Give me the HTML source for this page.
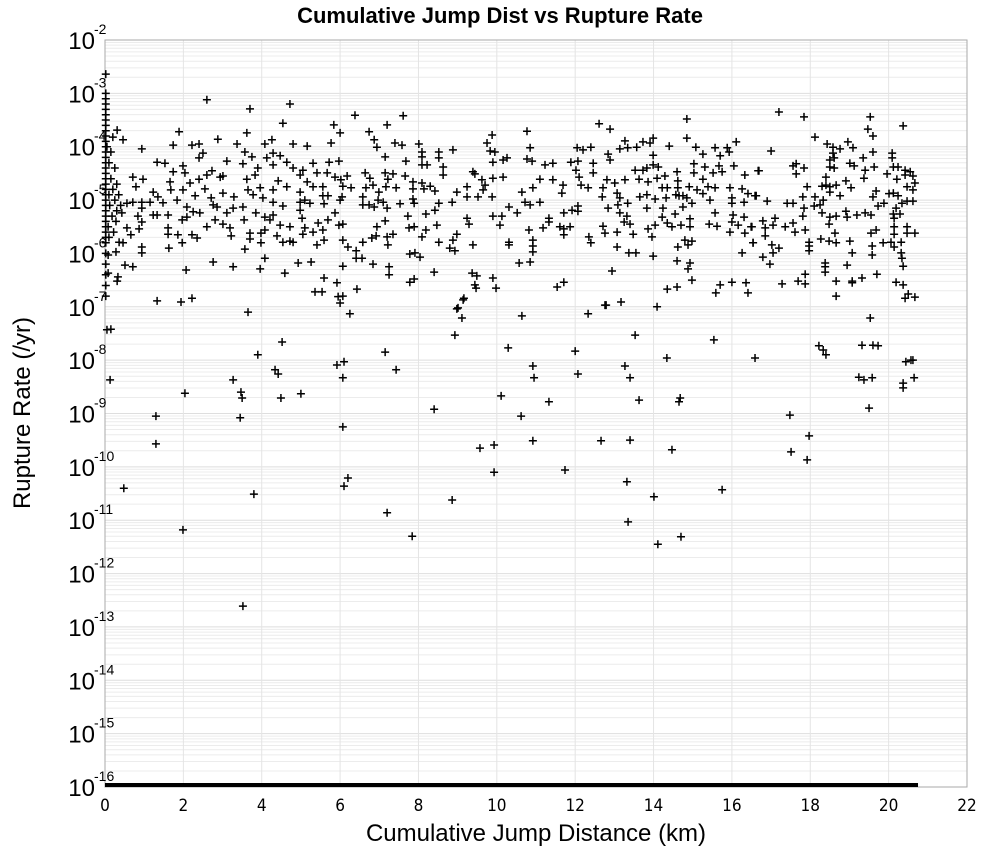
<!DOCTYPE html>
<html><head><meta charset="utf-8">
<style>
html,body{margin:0;padding:0;background:#fff;}
svg{display:block;font-family:"Liberation Sans","DejaVu Sans",sans-serif;}
</style></head>
<body>
<svg id="chart" width="1000" height="850" viewBox="0 0 1000 850" xmlns="http://www.w3.org/2000/svg">
<text x="500" y="23" text-anchor="middle" font-size="22" font-weight="bold" fill="#000">Cumulative Jump Dist vs Rupture Rate</text>
<g id="grid"></g>
<rect x="105" y="40" width="862" height="747" fill="none" stroke="#aaa" stroke-width="1"/>
<g id="yticks"></g>
<g id="xticks"></g>
<g id="points"></g>
<text x="536" y="841" text-anchor="middle" font-size="24" fill="#000">Cumulative Jump Distance (km)</text>
<text transform="translate(30,413) rotate(-90)" text-anchor="middle" font-size="24" fill="#000">Rupture Rate (/yr)</text>
</svg>
<script>
const xTicks=[0,2,4,6,8,10,12,14,16,18,20,22];
const yExps=[-2,-3,-4,-5,-6,-7,-8,-9,-10,-11,-12,-13,-14,-15,-16];
// floor band: ruptures clamped at 1e-16, spanning this distance range
const floorRange=[0,20.75];
const floorRate=1e-16;
// [distance km, log10 rate]
const pts=[
[0.02,-2.64],[0.02,-3.0],[0.02,-3.1],[0.02,-3.2],[0.02,-3.3],[0.02,-3.4],[0.02,-3.5],[0.02,-3.6],[0.02,-3.7],[0.02,-3.8],[0.02,-3.9],[0.02,-4.0],[0.02,-4.1],[0.02,-4.2],[0.02,-4.3],[0.02,-4.4],[0.02,-4.5],[0.02,-4.6],[0.02,-4.7],[0.02,-4.8],[0.02,-4.9],[0.02,-5.0],[0.02,-5.1],[0.02,-5.2],[0.02,-5.3],[0.02,-5.4],[0.02,-5.5],[0.02,-5.6],[0.02,-5.7],[0.02,-5.8],[0.02,-6.0],[0.02,-6.2],[0.02,-6.4],[0.02,-6.6],[0.02,-6.8],
[0.1,-4.3],[0.15,-4.6],[0.2,-4.8],[0.1,-4.9],[0.25,-5.0],[0.12,-5.1],[0.3,-5.2],[0.18,-5.3],[0.08,-5.5],[0.22,-5.6],[0.1,-5.7],[0.15,-4.1],[0.25,-4.4],[0.3,-4.7],[0.05,-4.0],[0.35,-4.9],[0.4,-5.1],[0.28,-5.4],
[2.60,-3.12],[3.70,-3.29],[4.72,-3.20],[4.54,-3.56],[0.31,-3.69],[1.89,-3.72],[3.62,-3.74],[4.26,-3.87],[2.88,-3.86],[0.94,-4.04],[1.74,-3.97],[2.22,-3.97],[2.40,-3.95],[3.37,-3.95],[4.08,-3.95],[4.80,-3.95],[5.16,-3.99],[0.46,-3.87],[0.20,-3.82],[3.57,-4.10],[2.50,-4.12],[3.75,-4.19],[2.40,-4.21],[3.11,-4.27],[1.33,-4.29],[1.53,-4.31],[4.13,-4.21],[4.29,-4.12],[4.47,-4.17],[4.64,-4.29],[5.31,-4.31],[1.99,-4.36],[3.52,-4.32],[4.29,-4.34],[4.80,-4.40],[5.05,-4.44],[2.73,-4.45],[3.90,-4.40],[1.74,-4.47],[2.04,-4.49],[2.60,-4.53],[2.94,-4.57],[3.01,-4.55],[3.62,-4.61],[3.83,-4.53],[0.71,-4.57],[0.97,-4.61],[2.40,-4.61],[4.42,-4.64],[4.98,-4.53],[5.41,-4.49],[1.66,-4.66],[2.17,-4.68],[5.16,-4.66],[0.79,-4.75],[1.23,-4.85],[1.68,-4.81],[1.99,-4.81],[2.55,-4.79],[3.65,-4.81],[3.96,-4.77],[4.29,-4.81],[4.64,-4.75],[4.98,-4.85],[5.31,-4.75],[1.35,-4.94],[1.48,-5.05],[1.84,-5.00],[2.30,-4.92],[2.71,-4.96],[3.01,-4.87],[3.29,-4.94],[3.78,-4.90],[4.03,-4.96],[4.29,-5.04],[4.54,-5.11],[4.98,-5.04],[5.10,-5.00],[5.23,-5.06],[0.56,-5.06],[0.71,-5.04],[0.94,-5.04],[1.15,-5.04],[0.94,-5.15],[2.09,-5.13],[2.76,-5.09],[2.86,-5.13],[3.52,-5.13],[1.23,-5.28],[1.33,-5.28],[1.61,-5.28],[1.97,-5.37],[2.09,-5.32],[2.25,-5.22],[2.42,-5.24],[3.11,-5.24],[3.27,-5.15],[3.85,-5.24],[4.08,-5.32],[4.29,-5.28],[4.98,-5.19],[5.03,-5.34],[0.84,-5.30],[0.94,-5.41],[0.43,-5.24],[2.81,-5.37],[3.55,-5.37],[4.21,-5.37],[4.47,-5.47],[4.72,-5.50],[5.10,-5.52],[5.31,-5.60],[5.44,-5.43],[0.56,-5.52],[0.66,-5.65],[0.87,-5.54],[1.61,-5.52],[1.61,-5.64],[1.86,-5.65],[2.22,-5.65],[2.35,-5.71],[2.60,-5.50],[3.01,-5.45],[3.19,-5.52],[3.22,-5.67],[3.70,-5.62],[3.98,-5.62],[4.08,-5.56],[4.39,-5.67],[4.72,-5.77],[5.05,-5.64],[0.36,-5.79],[0.46,-5.80],[1.97,-5.80],[3.70,-5.73],[3.98,-5.80],[4.54,-5.79],[4.80,-5.79],[5.41,-5.84],[0.94,-5.88],[0.94,-5.99],[1.63,-5.90],[3.57,-5.92],[0.28,-5.97],[0.08,-6.03],[4.08,-6.09],[2.76,-6.16],[3.27,-6.25],[3.96,-6.29],[4.93,-6.18],[5.26,-6.16],[0.51,-6.22],[0.71,-6.25],[2.07,-6.31],[4.59,-6.37],[0.08,-6.37],[0.33,-6.44],[0.31,-6.52],[5.36,-6.72],[1.33,-6.89],[1.94,-6.91],[2.22,-6.84],
[6.38,-3.41],[7.61,-3.42],[5.84,-3.59],[6.00,-3.74],[7.20,-3.59],[6.74,-3.72],[6.87,-3.87],[6.94,-4.01],[5.77,-3.93],[7.40,-3.93],[7.58,-3.97],[8.01,-3.95],[8.09,-4.10],[8.09,-4.19],[8.52,-4.10],[8.52,-4.21],[8.88,-4.06],[7.15,-4.19],[5.72,-4.29],[5.97,-4.27],[7.68,-4.27],[8.09,-4.34],[8.22,-4.34],[8.63,-4.38],[8.63,-4.53],[5.67,-4.49],[5.87,-4.57],[6.02,-4.62],[6.18,-4.55],[6.64,-4.49],[6.76,-4.59],[7.15,-4.49],[7.22,-4.61],[7.35,-4.51],[7.66,-4.55],[7.86,-4.66],[8.09,-4.68],[8.30,-4.74],[5.56,-4.75],[6.07,-4.74],[6.28,-4.77],[6.66,-4.77],[6.84,-4.72],[7.17,-4.75],[7.43,-4.77],[7.86,-4.79],[8.14,-4.79],[8.42,-4.83],[8.98,-4.85],[5.56,-4.92],[5.69,-4.92],[6.05,-4.94],[6.58,-4.94],[6.99,-4.85],[6.97,-5.00],[7.10,-5.04],[7.86,-4.98],[7.89,-5.06],[5.59,-5.07],[6.00,-5.00],[6.58,-5.09],[6.74,-5.09],[6.87,-5.13],[7.20,-5.15],[7.53,-5.07],[8.52,-5.06],[8.42,-5.19],[8.86,-5.04],[9.24,-4.94],[9.52,-4.94],[9.88,-4.94],[9.24,-4.75],[9.44,-4.51],[9.39,-4.47],[9.62,-4.62],[9.70,-4.72],[9.65,-4.81],[9.90,-4.59],[10.16,-4.57],[9.90,-4.29],[9.75,-3.93],[9.88,-3.78],[9.83,-4.08],[9.95,-4.10],[10.16,-4.25],[10.26,-4.21],[10.77,-3.71],[10.85,-4.02],[10.77,-4.23],[10.90,-4.27],[10.64,-4.85],[10.72,-5.04],[10.85,-5.09],[10.92,-4.77],[10.31,-5.13],[10.52,-5.24],[9.90,-5.30],[10.13,-5.30],[10.08,-5.47],[9.24,-5.34],[9.29,-5.45],[10.82,-5.56],[10.92,-5.75],[10.92,-5.86],[10.92,-5.97],[10.31,-5.79],[10.31,-5.84],[10.57,-6.18],[10.85,-6.16],[9.39,-5.84],[8.98,-5.64],[8.88,-5.75],[8.80,-5.90],[8.93,-5.95],[5.56,-5.56],[5.69,-5.37],[5.87,-5.24],[5.97,-5.47],[6.07,-5.45],[5.59,-5.75],[6.07,-5.75],[6.20,-5.88],[6.41,-5.95],[6.58,-5.79],[6.81,-5.71],[6.92,-5.67],[6.94,-5.50],[7.15,-5.39],[7.20,-5.69],[7.22,-5.84],[7.35,-5.64],[7.73,-5.30],[7.76,-5.52],[7.89,-5.50],[8.09,-5.69],[8.19,-5.26],[8.19,-5.56],[8.47,-5.47],[8.52,-5.79],[6.41,-6.09],[6.56,-6.09],[6.84,-6.20],[6.07,-6.24],[7.78,-6.01],[7.91,-5.99],[8.04,-6.07],[7.25,-6.25],[7.25,-6.40],[8.40,-6.35],[7.78,-6.54],[7.89,-6.48],[9.37,-6.37],[9.49,-6.42],[9.90,-6.46],[9.47,-6.65],[9.14,-6.87],[8.98,-7.04],[5.59,-6.46],[5.92,-6.55],[5.54,-6.72],[5.95,-6.81],[6.07,-6.80],[6.00,-6.93],[6.43,-6.67],
[12.61,-3.57],[12.89,-3.67],[14.85,-3.48],[14.85,-3.84],[13.27,-3.89],[13.73,-3.91],[13.99,-3.84],[13.91,-3.93],[14.40,-3.99],[16.11,-3.91],[12.05,-4.02],[12.20,-4.06],[12.40,-4.01],[13.14,-4.04],[13.34,-4.02],[13.57,-4.01],[13.99,-4.16],[15.08,-4.01],[15.26,-4.14],[15.57,-4.02],[15.70,-4.17],[15.88,-4.02],[15.93,-4.10],[12.84,-4.14],[12.89,-4.25],[11.23,-4.34],[11.43,-4.31],[11.89,-4.29],[12.07,-4.27],[12.46,-4.31],[12.02,-4.44],[12.46,-4.49],[13.53,-4.44],[13.73,-4.44],[13.83,-4.40],[14.12,-4.38],[13.99,-4.34],[14.60,-4.47],[15.03,-4.32],[15.03,-4.49],[15.31,-4.38],[15.52,-4.49],[15.67,-4.36],[15.75,-4.47],[16.05,-4.36],[16.33,-4.53],[16.67,-4.45],[11.10,-4.61],[11.43,-4.62],[11.69,-4.72],[12.10,-4.57],[12.15,-4.72],[12.33,-4.77],[12.81,-4.62],[13.01,-4.68],[13.27,-4.62],[13.63,-4.61],[13.86,-4.66],[14.09,-4.59],[14.29,-4.55],[14.62,-4.64],[14.62,-4.77],[14.91,-4.75],[15.26,-4.61],[15.39,-4.75],[15.57,-4.77],[15.95,-4.77],[16.26,-4.79],[11.66,-4.87],[12.71,-4.77],[13.07,-4.87],[14.22,-4.77],[14.35,-4.77],[15.11,-4.81],[12.69,-4.94],[13.14,-4.96],[13.65,-4.94],[13.83,-4.90],[14.04,-4.98],[14.32,-4.96],[14.57,-4.90],[14.65,-4.92],[14.75,-4.92],[14.85,-4.96],[15.26,-4.88],[15.44,-5.00],[16.00,-4.96],[16.41,-4.88],[16.62,-4.92],[11.10,-5.04],[12.07,-5.11],[12.84,-5.15],[13.09,-5.09],[13.34,-5.06],[13.83,-5.15],[14.24,-5.15],[14.75,-5.13],[14.98,-5.06],[16.00,-5.06],[16.31,-5.04],[11.71,-5.24],[11.92,-5.19],[12.07,-5.21],[13.14,-5.24],[13.32,-5.30],[14.22,-5.32],[14.55,-5.26],[14.93,-5.35],[15.57,-5.24],[16.03,-5.28],[16.31,-5.32],[11.33,-5.34],[11.33,-5.41],[11.18,-5.52],[11.61,-5.50],[11.71,-5.54],[11.87,-5.50],[11.71,-5.65],[12.71,-5.49],[12.76,-5.62],[13.07,-5.60],[13.25,-5.41],[13.40,-5.45],[13.48,-5.64],[13.86,-5.54],[13.96,-5.69],[14.04,-5.47],[14.35,-5.43],[14.47,-5.50],[14.70,-5.47],[14.93,-5.50],[15.42,-5.45],[15.62,-5.49],[16.00,-5.41],[16.16,-5.47],[16.49,-5.50],[16.33,-5.62],[15.95,-5.60],[12.35,-5.69],[12.40,-5.80],[13.07,-5.88],[13.37,-5.99],[13.55,-5.99],[13.99,-6.05],[14.80,-5.75],[14.98,-5.77],[14.62,-5.88],[14.88,-5.84],[14.60,-6.14],[14.93,-6.18],[14.88,-6.29],[16.26,-5.99],[16.54,-5.80],[12.94,-6.33],[14.98,-6.50],[15.70,-6.59],[15.59,-6.74],[16.00,-6.54],[16.36,-6.55],[16.41,-6.74],[14.60,-6.63],[14.35,-6.67],[11.54,-6.63],[11.71,-6.54],[12.79,-6.97],[13.17,-6.91],[14.09,-7.00],
[17.20,-3.35],[17.84,-3.44],[19.53,-3.44],[20.37,-3.61],[19.47,-3.67],[19.60,-3.80],[18.12,-3.82],[17.00,-4.08],[18.43,-3.95],[18.58,-4.01],[18.76,-4.04],[18.96,-3.91],[19.09,-4.02],[19.60,-4.10],[18.58,-4.12],[18.50,-4.25],[18.61,-4.21],[19.35,-4.21],[20.09,-4.12],[20.09,-4.21],[16.69,-4.45],[17.56,-4.36],[17.64,-4.32],[17.64,-4.51],[17.84,-4.40],[18.50,-4.38],[18.61,-4.40],[19.01,-4.31],[19.12,-4.36],[19.40,-4.44],[19.63,-4.38],[19.37,-4.59],[19.96,-4.51],[20.21,-4.61],[20.12,-4.38],[20.24,-4.38],[20.42,-4.44],[20.55,-4.47],[20.42,-4.53],[20.62,-4.55],[20.67,-4.68],[20.47,-4.75],[20.62,-4.81],[18.40,-4.57],[17.92,-4.75],[18.30,-4.74],[18.40,-4.72],[18.50,-4.75],[18.66,-4.72],[18.91,-4.64],[19.04,-4.77],[18.76,-4.92],[16.59,-4.92],[16.90,-5.02],[17.41,-5.06],[17.56,-5.06],[17.81,-4.94],[17.84,-5.15],[18.12,-4.94],[18.10,-5.11],[18.25,-5.09],[18.33,-5.00],[18.50,-4.85],[19.60,-4.94],[19.68,-4.83],[19.73,-5.11],[19.88,-5.06],[20.01,-4.88],[20.12,-4.87],[20.24,-4.92],[20.19,-5.15],[20.34,-5.06],[20.47,-5.02],[20.62,-5.02],[17.81,-5.30],[18.30,-5.24],[18.50,-5.32],[18.66,-5.30],[18.91,-5.21],[18.94,-5.32],[19.19,-5.28],[19.40,-5.24],[19.55,-5.28],[20.12,-5.26],[20.29,-5.26],[18.48,-5.45],[20.14,-5.34],[16.79,-5.39],[17.10,-5.34],[17.05,-5.47],[17.36,-5.50],[17.56,-5.43],[17.61,-5.60],[17.87,-5.56],[16.85,-5.52],[16.85,-5.67],[16.51,-5.50],[16.54,-5.80],[18.27,-5.73],[18.48,-5.77],[18.66,-5.80],[18.63,-5.62],[19.01,-5.77],[19.68,-5.56],[19.55,-5.62],[20.14,-5.50],[20.14,-5.64],[20.47,-5.50],[20.47,-5.62],[20.67,-5.62],[19.86,-5.80],[20.06,-5.79],[20.32,-5.79],[20.14,-5.88],[19.58,-5.86],[17.97,-5.79],[17.97,-5.86],[17.97,-5.95],[17.02,-5.84],[17.20,-5.90],[17.05,-5.99],[16.79,-6.07],[16.97,-6.20],[19.07,-5.99],[19.58,-6.03],[20.32,-5.99],[20.34,-6.09],[20.37,-6.24],[18.38,-6.18],[18.38,-6.25],[18.38,-6.35],[18.94,-6.22],[19.70,-6.39],[17.87,-6.39],[17.69,-6.52],[17.87,-6.57],[17.28,-6.57],[18.66,-6.52],[19.07,-6.52],[19.07,-6.55],[19.32,-6.46],[20.19,-6.54],[20.37,-6.59],[20.50,-6.76],[20.42,-6.84],[18.66,-6.80],
[0.05,-7.43],[0.15,-7.42],[0.13,-8.37],[0.48,-10.40],[1.30,-9.05],[1.30,-9.57],[2.04,-8.62],[1.99,-11.18],[3.27,-8.37],[3.47,-8.60],[3.50,-8.71],[3.45,-9.08],[3.80,-10.51],[3.52,-12.61],[3.90,-7.90],[3.65,-7.10],[4.34,-8.18],[4.42,-8.26],[4.52,-7.66],[4.49,-8.71],[5.00,-8.63],[6.07,-9.25],[5.92,-8.09],[6.07,-8.33],[6.10,-8.03],[6.20,-10.21],[6.10,-10.36],[6.25,-7.13],[7.15,-7.85],[7.20,-10.86],[7.43,-8.18],[7.84,-11.30],[8.40,-8.92],[8.86,-10.62],[8.93,-7.53],[9.11,-7.21],[9.01,-7.02],[9.16,-6.84],[9.44,-6.59],[9.57,-9.65],[9.93,-9.59],[9.93,-10.10],[9.98,-6.65],[10.11,-8.67],[10.29,-7.77],[10.62,-9.05],[10.64,-7.17],[10.92,-8.11],[10.95,-8.33],[10.92,-9.51],[11.33,-8.78],[11.74,-10.06],[12.00,-7.83],[12.07,-8.26],[12.33,-7.13],[12.66,-9.51],[12.76,-6.97],[13.32,-10.28],[13.40,-9.50],[13.27,-8.11],[13.53,-7.53],[13.35,-11.03],[13.40,-8.33],[13.63,-8.75],[14.01,-10.56],[14.11,-11.45],[14.70,-11.31],[14.47,-9.68],[14.68,-8.71],[14.65,-8.78],[14.34,-7.96],[15.75,-10.43],[15.54,-7.62],[16.59,-7.96],[17.48,-9.03],[17.51,-9.72],[17.92,-9.87],[17.97,-9.42],[18.22,-7.73],[18.33,-7.81],[18.40,-7.90],[19.24,-8.32],[19.37,-8.37],[19.53,-7.21],[19.50,-8.90],[19.58,-8.33],[19.60,-7.72],[19.73,-7.73],[20.37,-8.43],[20.44,-8.03],[20.57,-8.00],[20.62,-8.00],[20.65,-8.33],[20.67,-6.82],[19.32,-7.72],[20.37,-8.52]
];
const NS="http://www.w3.org/2000/svg";
const X0=105,X1=967,Y0=40,Y1=787;
const xMin=0,xMax=22,lMax=-2,lMin=-16;
function xs(v){return X0+(v-xMin)/(xMax-xMin)*(X1-X0);}
function ys(l){return Y0+(lMax-l)/(lMax-lMin)*(Y1-Y0);}
function mk(tag,attrs,parent){const e=document.createElementNS(NS,tag);for(const k in attrs)e.setAttribute(k,attrs[k]);parent.appendChild(e);return e;}
const grid=document.getElementById('grid');
// minor y grid
for(let e=lMin;e<lMax;e++){
  for(let m=1;m<=9;m++){
    const yy=ys(e+Math.log10(m));
    const ln=mk('line',{x1:X0,x2:X1,y1:yy,y2:yy,stroke:m===1?'#dedede':'#ececec','stroke-width':1},grid);
    
    
  }
}
xTicks.forEach(t=>{
  const xx=xs(t);
  const ln=mk('line',{x1:xx,x2:xx,y1:Y0,y2:Y1,stroke:'#e4e4e4','stroke-width':1},grid);
  
  
});
const xt=document.getElementById('xticks');
xTicks.forEach(t=>{
  const tx=mk('text',{x:xs(t),y:811,'text-anchor':'middle','font-size':17,fill:'#000','font-family':'"DejaVu Sans Condensed","Liberation Sans Narrow","Liberation Sans",sans-serif'},xt);
  tx.textContent=String(t);
  
  
});
const yt=document.getElementById('yticks');
yExps.forEach(e=>{
  const yy=ys(e);
  const g=mk('text',{x:95,y:yy+9,'text-anchor':'end','font-size':24,fill:'#000'},yt);
  g.textContent='10';
  
  
  const s=mk('text',{x:94,y:yy-6,'font-size':14,fill:'#000'},yt);
  s.textContent=String(e);
  
  
});
const pg=document.getElementById('points');
// floor band
const band=mk('rect',{x:xs(floorRange[0]),y:ys(Math.log10(floorRate))-4,width:xs(floorRange[1])-xs(floorRange[0]),height:4,fill:'#000'},pg);


pts.forEach(p=>{
  const cx=xs(p[0]),cy=ys(p[1]);
  const m=mk('path',{d:`M${cx-4},${cy}H${cx+4}M${cx},${cy-4}V${cy+4}`,stroke:'#000','stroke-width':1.5,fill:'none'},pg);
  
  
});
</script>
</body></html>
